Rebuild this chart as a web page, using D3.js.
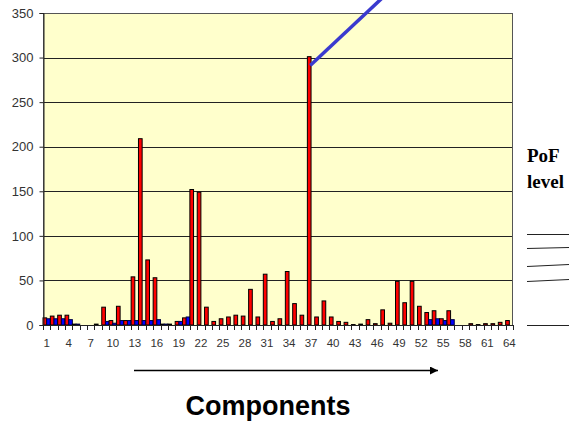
<!DOCTYPE html>
<html>
<head>
<meta charset="utf-8">
<script src="https://cdn.jsdelivr.net/npm/d3@7"></script>
<style>
  html, body { margin: 0; padding: 0; background: #fff; }
  svg { display: block; }
</style>
</head>
<body>
<svg id="chart" width="571" height="423"></svg>
<script>
// ---- data ----
const categories = d3.range(1, 65);
const redValues = [
  8, 10, 11, 11, 1, 0, 0, 1, 20, 5,
  21, 5, 54, 209, 73, 53, 1, 1, 4, 8,
  152, 149, 20, 4, 7, 9, 11, 10, 40, 9,
  57, 4, 7, 60, 24, 11, 301, 9, 27, 9,
  4, 3, 0.5, 1, 6, 1.5, 17, 2, 49, 25,
  49, 21, 14, 16, 7, 16, 0, 0, 1.5, 0.5,
  1.5, 1.5, 3, 5
];
const blueValues = [
  7, 7, 7, 6, 1, 0, 0, 0, 4, 2,
  5, 5, 5, 5, 5, 6, 1, 0, 4, 9,
  0, 0, 0, 0, 0, 0, 0, 0, 0, 0,
  0, 0, 0, 0, 0, 0, 0, 0, 0, 0,
  0, 0, 0, 0, 0, 0, 0, 0, 0, 0,
  0, 0, 6, 7, 5, 6, 0, 0, 0, 0,
  0, 0, 0, 0
];
const seriesKeys = ["red", "blue"];
const yTicks = [0, 50, 100, 150, 200, 250, 300, 350];
const xTickLabels = categories.filter(c => (c - 1) % 3 === 0);
const pofLevels = ["PoF", "level"];

// ---- layout ----
const svg = d3.select("#chart");
const plot = { left: 43, right: 513, top: 13, bottom: 325 };

const x = d3.scaleBand().domain(categories).range([plot.left, plot.right]).padding(0);
const xs = d3.scaleBand().domain(seriesKeys).range([0, x.bandwidth()]).padding(0);
const y = d3.scaleLinear().domain([0, 350]).range([plot.bottom, plot.top]);

// plot background
svg.append("rect")
  .attr("x", plot.left).attr("y", plot.top)
  .attr("width", plot.right - plot.left).attr("height", plot.bottom - plot.top)
  .attr("fill", "#FFFFCC");

// gridlines
svg.append("g").selectAll("line").data(yTicks.filter(d => d > 0 && d < 350)).join("line")
  .attr("x1", plot.left).attr("x2", plot.right)
  .attr("y1", d => Math.round(y(d)) + 0.5).attr("y2", d => Math.round(y(d)) + 0.5)
  .attr("stroke", "#222").attr("stroke-width", 1);

// plot border
svg.append("rect")
  .attr("x", plot.left + 0.5).attr("y", plot.top + 0.5)
  .attr("width", plot.right - plot.left - 1).attr("height", plot.bottom - plot.top)
  .attr("fill", "none").attr("stroke", "#555").attr("stroke-width", 1);

// bars
const rows = categories.map((c, i) => ({ c, red: redValues[i], blue: blueValues[i] }));
const colors = { red: "#FF0000", blue: "#0000FF" };
const strokes = { red: "#000", blue: "#000044" };
const gBars = svg.append("g");
rows.forEach(r => {
  seriesKeys.forEach(k => {
    const v = r[k];
    if (v <= 0) return;
    gBars.append("rect")
      .attr("x", x(r.c) + xs(k))
      .attr("y", y(v))
      .attr("width", xs.bandwidth())
      .attr("height", y(0) - y(v))
      .attr("fill", colors[k])
      .attr("stroke", strokes[k])
      .attr("stroke-width", 1);
  });
});

// y axis
const yAxis = svg.append("g")
  .attr("transform", `translate(${plot.left + 0.5},0)`)
  .call(d3.axisLeft(y).tickValues(yTicks).tickSize(4).tickPadding(6));
yAxis.select(".domain").attr("stroke", "#222");
yAxis.selectAll(".tick line").attr("stroke", "#222");
yAxis.selectAll("text")
  .attr("font-family", "Liberation Sans, Arial, sans-serif")
  .attr("font-size", 13).attr("fill", "#333");

// x axis baseline
svg.append("line")
  .attr("x1", plot.left).attr("x2", plot.right)
  .attr("y1", plot.bottom + 0.5).attr("y2", plot.bottom + 0.5)
  .attr("stroke", "#222");

// x tick marks at category boundaries
const boundaries = categories.map(c => x(c)).concat([x(categories[categories.length - 1]) + x.bandwidth()]);
svg.append("g").selectAll("line").data(boundaries).join("line")
  .attr("x1", d => Math.round(d) + 0.5).attr("x2", d => Math.round(d) + 0.5)
  .attr("y1", plot.bottom).attr("y2", plot.bottom + 5)
  .attr("stroke", "#222");

// x tick labels
const xAxis = svg.append("g")
  .attr("transform", `translate(0,${plot.bottom})`)
  .call(d3.axisBottom(x).tickValues(xTickLabels).tickSize(0).tickPadding(14));
xAxis.select(".domain").remove();
xAxis.selectAll("text")
  .attr("font-family", "Liberation Sans, Arial, sans-serif")
  .attr("font-size", 11.5).attr("fill", "#333");

// annotation: blue diagonal line from top of bar 37
const c37 = x(37) + xs("red") + xs.bandwidth() / 2 + 1;
svg.append("line")
  .attr("x1", c37).attr("y1", y(291))
  .attr("x2", c37 + 72).attr("y2", -2)
  .attr("stroke", "#3A3ACF").attr("stroke-width", 3.5);

// arrow under axis
svg.append("defs").append("marker")
  .attr("id", "arrow").attr("viewBox", "0 0 10 10")
  .attr("refX", 10).attr("refY", 5)
  .attr("markerWidth", 10).attr("markerHeight", 8)
  .attr("markerUnits", "userSpaceOnUse")
  .attr("orient", "auto")
  .append("path").attr("d", "M0,0 L10,5 L0,10 Z").attr("fill", "#000");
svg.append("line")
  .attr("x1", 134).attr("y1", 370.5).attr("x2", 438).attr("y2", 370.5)
  .attr("stroke", "#000").attr("stroke-width", 1.5)
  .attr("marker-end", "url(#arrow)");

// axis title
svg.append("text")
  .attr("x", 268).attr("y", 415)
  .attr("text-anchor", "middle")
  .attr("font-family", "Liberation Sans, Arial, sans-serif")
  .attr("font-weight", "bold").attr("font-size", 27)
  .attr("fill", "#000")
  .text("Components");

// PoF level legend
svg.append("g").selectAll("text").data(pofLevels).join("text")
  .attr("x", 527).attr("y", (d, i) => 162 + i * 26)
  .attr("font-family", "Liberation Serif, Times New Roman, serif")
  .attr("font-weight", "bold").attr("font-size", 19)
  .attr("fill", "#000")
  .text(d => d);

const pofLines = [[234, 234], [248, 247], [266, 264], [281, 279], [325, 325]];
svg.append("g").selectAll("line").data(pofLines).join("line")
  .attr("x1", 527).attr("x2", 569)
  .attr("y1", d => d[0] + 0.5).attr("y2", d => d[1] + 0.5)
  .attr("stroke", "#222").attr("stroke-width", 1);
</script>
</body>
</html>
